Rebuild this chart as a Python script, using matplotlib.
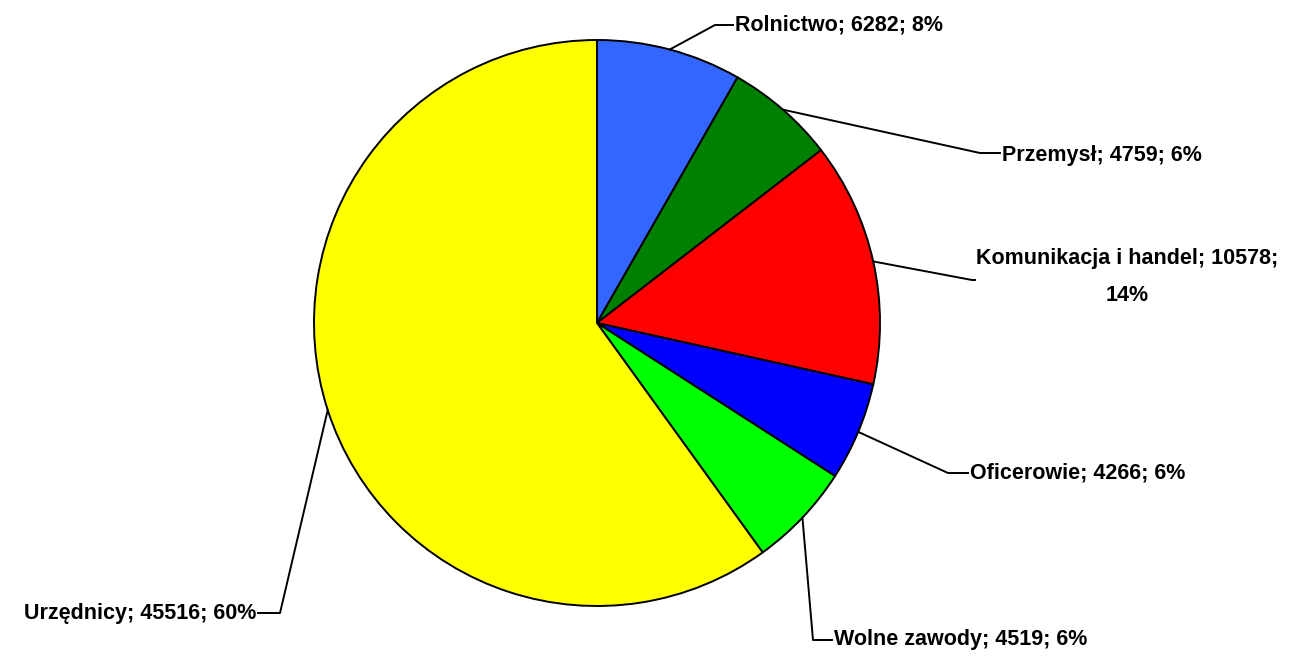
import numpy as np
import matplotlib
matplotlib.use("Agg")
import matplotlib.pyplot as plt

categories = ["Rolnictwo", "Przemysł", "Komunikacja i handel", "Oficerowie",
              "Wolne zawody", "Urzędnicy"]
values = [6282, 4759, 10578, 4266, 4519, 45516]
colors = ["#3366FF", "#008000", "#FF0000", "#0000FF", "#00FF00", "#FFFF00"]

# label layout (pixel coords, y down): elbow point, text anchor, alignment
elbows = [(715, 25), (980, 153), (972, 280), (948, 473), (813, 640), (280, 613)]
text_pos = [(735, 25), (1002, 155), (1127, 277), (970, 473), (834, 640), (256, 613)]
aligns = ["left", "left", "center", "left", "left", "right"]

plt.rcParams['font.family'] = ['Liberation Sans', 'DejaVu Sans']

H = 657
fig = plt.figure(figsize=(12.89, 6.57), dpi=100)
ax = fig.add_axes([0, 0, 1, 1])
cx, cy, r = 597, H - 323, 283

wedges, _ = ax.pie(values, colors=colors, startangle=90, counterclock=False,
                   center=(cx, cy), radius=r, frame=True,
                   wedgeprops=dict(edgecolor="black", linewidth=1.4))
ax.set_xlim(0, 1289)
ax.set_ylim(0, H)
ax.set_aspect("equal")
ax.axis("off")

total = sum(values)
for i, w in enumerate(wedges):
    ang = np.deg2rad((w.theta1 + w.theta2) / 2)
    px = cx + r * np.cos(ang)
    py = cy + r * np.sin(ang)
    ex, ey = elbows[i]
    tx, ty = text_pos[i]
    pct = round(values[i] / total * 100)
    label = f"{categories[i]}; {values[i]}; {pct}%"
    if categories[i] == "Komunikacja i handel":
        label = f"{categories[i]}; {values[i]};\n{pct}%"
        endx = ex + 3
    elif aligns[i] == "right":
        endx = tx + 2
    else:
        endx = tx - 2
    ax.plot([px, ex, endx], [py, H - ey, H - ey], color="black", lw=1.4)
    ax.text(tx, H - ty, label, ha=aligns[i], va="center", fontsize=15.5,
            fontweight="bold", linespacing=1.95)

fig.savefig("out.png", dpi=100)
